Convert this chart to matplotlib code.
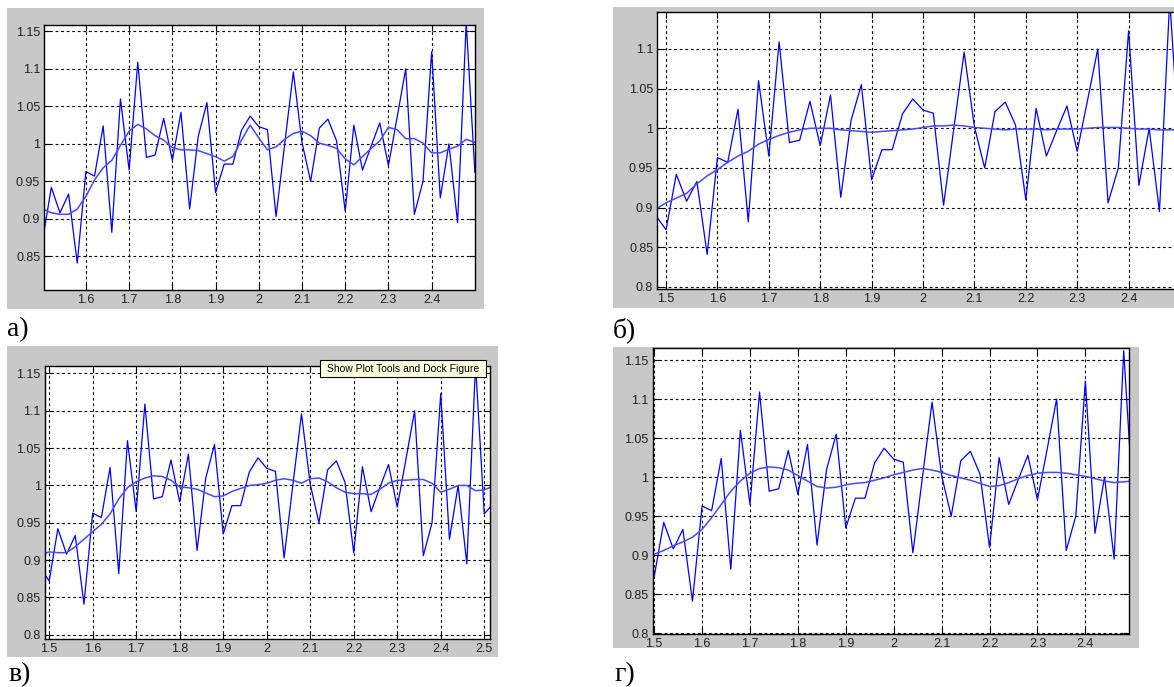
import matplotlib
matplotlib.use("Agg")
import matplotlib.pyplot as plt
from matplotlib.patches import Rectangle

W, H = 1174, 687

# common time grid and the noisy signal (same in every panel)
x_all = [1.48, 1.50, 1.52, 1.54, 1.56, 1.58, 1.60, 1.62, 1.64, 1.66,
         1.68, 1.70, 1.72, 1.74, 1.76, 1.78, 1.80, 1.82, 1.84, 1.86,
         1.88, 1.90, 1.92, 1.94, 1.96, 1.98, 2.00, 2.02, 2.04, 2.06,
         2.08, 2.10, 2.12, 2.14, 2.16, 2.18, 2.20, 2.22, 2.24, 2.26,
         2.28, 2.30, 2.32, 2.34, 2.36, 2.38, 2.40, 2.42, 2.44, 2.46,
         2.48, 2.50, 2.52]
noisy = [0.890, 0.872, 0.942, 0.908, 0.933, 0.841, 0.963, 0.957, 1.024, 0.882,
         1.060, 0.965, 1.109, 0.982, 0.985, 1.034, 0.978, 1.042, 0.913, 1.010,
         1.055, 0.935, 0.973, 0.973, 1.018, 1.037, 1.023, 1.019, 0.903, 1.000,
         1.096, 1.002, 0.950, 1.021, 1.033, 1.004, 0.910, 1.025, 0.965, 0.997,
         1.028, 0.971, 1.035, 1.100, 0.906, 0.950, 1.123, 0.928, 1.000, 0.895,
         1.162, 0.962, 0.975]

# smoothed curves, one per panel
smooth_a = [0.913, 0.908, 0.906, 0.906, 0.913, 0.930, 0.952, 0.968, 0.978, 0.998,
            1.017, 1.026, 1.020, 1.011, 1.005, 0.995, 0.992, 0.992, 0.991, 0.987,
            0.983, 0.977, 0.983, 1.005, 1.025, 1.008, 0.992, 0.996, 1.006, 1.014,
            1.017, 1.011, 1.001, 0.998, 0.994, 0.980, 0.972, 0.983, 0.994, 1.004,
            1.022, 1.019, 1.007, 1.007, 1.001, 0.988, 0.988, 0.993, 0.997, 1.006,
            1.002]
smooth_b = [0.898, 0.906, 0.912, 0.918, 0.930, 0.940, 0.948, 0.957, 0.965, 0.971,
            0.980, 0.986, 0.991, 0.995, 0.998, 1.000, 1.000, 1.000, 0.998, 0.997,
            0.996, 0.995, 0.996, 0.997, 0.998, 0.999, 1.001, 1.003, 1.003, 1.004,
            1.003, 1.001, 1.000, 0.999, 0.998, 0.999, 0.999, 0.999, 0.998, 0.999,
            0.999, 0.999, 1.000, 1.001, 1.001, 1.001, 1.000, 0.999, 0.999, 0.998,
            0.998, 0.998]
smooth_v = [0.907, 0.911, 0.910, 0.910, 0.918, 0.928, 0.938, 0.948, 0.962, 0.982,
            0.997, 1.005, 1.010, 1.013, 1.012, 1.007, 0.998, 0.997, 0.995, 0.990,
            0.985, 0.986, 0.992, 0.996, 1.000, 1.001, 1.003, 1.007, 1.009, 1.007,
            1.003, 1.009, 1.010, 1.005, 0.997, 0.991, 0.989, 0.989, 0.988, 0.995,
            1.003, 1.007, 1.007, 1.008, 1.008, 1.003, 0.991, 0.995, 1.000, 1.000,
            0.993, 0.994, 0.999]
smooth_g = [0.901, 0.906, 0.912, 0.917, 0.923, 0.933, 0.948, 0.965, 0.982, 0.995,
            1.005, 1.011, 1.013, 1.012, 1.009, 1.002, 0.995, 0.988, 0.986, 0.987,
            0.990, 0.992, 0.993, 0.996, 0.999, 1.003, 1.006, 1.009, 1.011, 1.009,
            1.006, 1.002, 0.999, 0.996, 0.992, 0.988, 0.989, 0.993, 0.998, 1.002,
            1.005, 1.006, 1.006, 1.005, 1.003, 1.001, 0.998, 0.995, 0.993, 0.994,
            0.995]

# tick values shown on each panel
xt_a = [1.6, 1.7, 1.8, 1.9, 2.0, 2.1, 2.2, 2.3, 2.4]
yt_a = [0.85, 0.9, 0.95, 1.0, 1.05, 1.1, 1.15]
xt_b = [1.5, 1.6, 1.7, 1.8, 1.9, 2.0, 2.1, 2.2, 2.3, 2.4]
yt_b = [0.8, 0.85, 0.9, 0.95, 1.0, 1.05, 1.1]
xt_v = [1.5, 1.6, 1.7, 1.8, 1.9, 2.0, 2.1, 2.2, 2.3, 2.4, 2.5]
yt_v = [0.8, 0.85, 0.9, 0.95, 1.0, 1.05, 1.1, 1.15]
xt_g = [1.5, 1.6, 1.7, 1.8, 1.9, 2.0, 2.1, 2.2, 2.3, 2.4]
yt_g = [0.8, 0.85, 0.9, 0.95, 1.0, 1.05, 1.1, 1.15]
panel_labels = ["а)", "б)", "в)", "г)"]


def px_rect(left, top, right, bottom):
    # pixel box (top-left origin) -> figure fraction [l, b, w, h]
    return [left / W, 1 - bottom / H, (right - left) / W, (bottom - top) / H]


def draw_panel(fig, grey_box, ax_box, xlim, ylim, sx, sy, xt, yt):
    l, b, w, h = px_rect(*grey_box)
    fig.patches.append(Rectangle((l, b), w, h, transform=fig.transFigure,
                                 facecolor="#c8c8c8", edgecolor="none", zorder=-5))
    ax = fig.add_axes(px_rect(*ax_box))
    ax.plot(x_all, noisy, color="#0000ff", lw=0.9)
    ax.plot(sx, sy, color="#4848ff", lw=1.1)
    ax.set_xlim(*xlim)
    ax.set_ylim(*ylim)
    ax.set_xticks(xt)
    ax.set_xticklabels(["%g" % t for t in xt])
    ax.set_yticks(yt)
    ax.set_yticklabels(["%g" % t for t in yt])
    ax.grid(True, color="black", linestyle=(0, (2.5, 2.5)), linewidth=0.8)
    ax.set_axisbelow(True)
    ax.tick_params(direction="in", length=4, width=0.8, top=True, right=True,
                   labelsize=9, labelcolor="#222222", pad=3)
    for sp in ax.spines.values():
        sp.set_linewidth(1.0)
    return ax


plt.rcParams["font.family"] = ["Liberation Sans", "DejaVu Sans"]
fig = plt.figure(figsize=(W / 100, H / 100), dpi=100)

# а)
draw_panel(fig, (7, 8, 484, 309), (44.4, 24.7, 475.3, 290),
           (1.504, 2.501), (0.805, 1.159), x_all[1:52], smooth_a, xt_a, yt_a)
# б) - runs off the right edge of the picture
draw_panel(fig, (613, 7, 1200, 308), (657.3, 11.7, 1180, 288.5),
           (1.483, 2.5), (0.798, 1.147), x_all[0:52], smooth_b, xt_b, yt_b)
# в)
draw_panel(fig, (7, 346, 497.5, 656.7), (44.8, 366, 489.9, 639.3),
           (1.490, 2.513), (0.794, 1.160), x_all, smooth_v, xt_v, yt_v)
# г)
draw_panel(fig, (613.3, 346.7, 1138.7, 648.3), (652.7, 348.3, 1128.5, 634),
           (1.497, 2.49), (0.799, 1.165), x_all[1:52], smooth_g, xt_g, yt_g)

# tooltip over panel в)
l, b, w, h = px_rect(320, 360, 486, 377)
fig.patches.append(Rectangle((l, b), w, h, transform=fig.transFigure,
                             facecolor="#ffffe1", edgecolor="black", lw=0.8, zorder=5))
fig.text(l + w / 2, b + h / 2, "Show Plot Tools and Dock Figure", fontsize=7.5,
         ha="center", va="center", color="black", zorder=6)

# panel captions
label_pos = [(7, 336), (613, 337), (8, 681), (614, 681)]
for lab, (px, py) in zip(panel_labels, label_pos):
    fig.text(px / W, 1 - py / H, lab, fontsize=20, family="Liberation Serif",
             ha="left", va="baseline", color="black")

fig.savefig("out.png", dpi=100)
